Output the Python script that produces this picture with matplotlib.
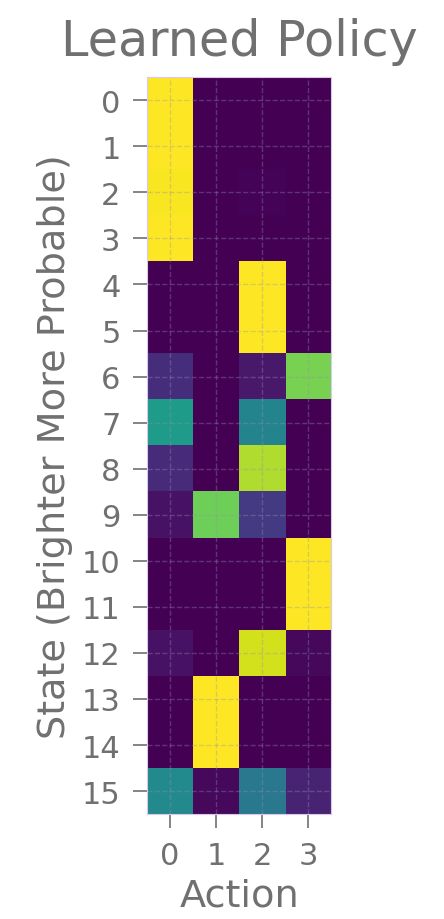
import numpy as np
import matplotlib
matplotlib.use("Agg")
import matplotlib.pyplot as plt

states = list(range(16))
actions = [0, 1, 2, 3]
# probabilities per action (columns) for each state (rows)
p_action0 = [1.00, 1.00, 0.99, 1.00, 0.00, 0.00, 0.13, 0.55, 0.12, 0.05, 0.00, 0.00, 0.05, 0.00, 0.00, 0.48]
p_action1 = [0.00, 0.00, 0.00, 0.00, 0.00, 0.00, 0.00, 0.00, 0.00, 0.78, 0.00, 0.00, 0.00, 1.00, 1.00, 0.02]
p_action2 = [0.00, 0.00, 0.01, 0.00, 1.00, 1.00, 0.07, 0.45, 0.88, 0.17, 0.00, 0.00, 0.93, 0.00, 0.00, 0.40]
p_action3 = [0.00, 0.00, 0.00, 0.00, 0.00, 0.00, 0.80, 0.00, 0.00, 0.00, 1.00, 1.00, 0.02, 0.00, 0.00, 0.10]

policy = np.column_stack([p_action0, p_action1, p_action2, p_action3])

txt = "#707070"
fig = plt.figure(figsize=(4.44, 9.2), dpi=100)
ax = fig.add_axes([0.329, 0.114, 0.419, 0.801])
ax.imshow(policy, cmap="viridis", vmin=0, vmax=1, aspect="equal", interpolation="nearest")
ax.set_xticks(actions)
ax.set_xticklabels([str(a) for a in actions])
ax.set_yticks(states)
ax.set_yticklabels([str(s) for s in states])
ax.tick_params(axis="both", colors=txt, labelsize=22, length=10, width=1.2,
               pad=9, labelcolor=txt)
ax.grid(True, linestyle="--", color="#9a8fb0", alpha=0.35, linewidth=1.0)
for s in ax.spines.values():
    s.set_color("#d8c8ec")
    s.set_linewidth(0.8)
ax.set_title("Learned Policy", fontsize=35.5, color=txt, pad=16)
ax.set_xlabel("Action", fontsize=27.5, color=txt, labelpad=6)
ax.set_ylabel("State (Brighter More Probable)", fontsize=27.5, color=txt, labelpad=6)
fig.savefig("out.png", dpi=100)
